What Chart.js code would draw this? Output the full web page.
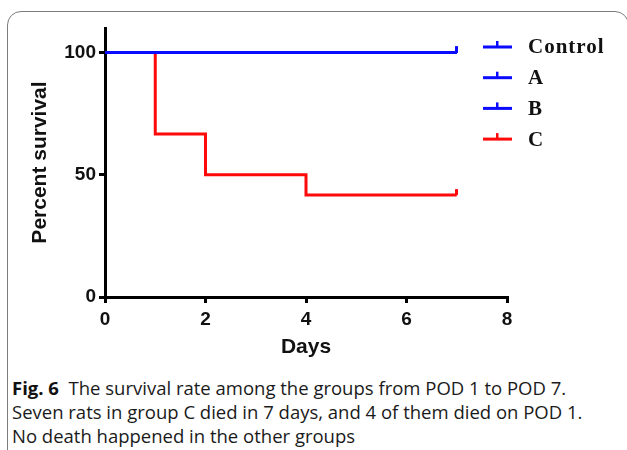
<!DOCTYPE html>
<html>
<head>
<meta charset="utf-8">
<script src="https://cdn.jsdelivr.net/npm/chart.js@4/dist/chart.umd.min.js"></script>
<style>
  html, body { margin: 0; padding: 0; background: #fff; width: 627px; height: 450px; overflow: hidden; }
  #frame { position: absolute; left: 7px; top: 11px; width: 622px; height: 470px; border: 1.5px solid #7c7c7c; border-radius: 14px; box-sizing: border-box; }
  #chart { position: absolute; left: 0; top: 0; }
  #caption { position: absolute; left: 12px; top: 376px; width: 615px; white-space: nowrap; font-family: "Open Sans", "Noto Sans", sans-serif; font-size: 18.5px; line-height: 24px; color: #1a1a1a; letter-spacing: 0; }
  #caption b { font-weight: 700; color: #111; }
</style>
</head>
<body>
<div id="frame"></div>
<canvas id="chart" width="627" height="360"></canvas>
<div id="caption"><b>Fig. 6</b>&nbsp; The survival rate among the groups from POD 1 to POD 7.<br>Seven rats in group C died in 7 days, and 4 of them died on POD 1.<br>No death happened in the other groups</div>
<script>
// ---- data ----
const groupNames = ['Control', 'A', 'B', 'C'];
const controlDays = [0, 7];
const controlSurvival = [100, 100];
const aDays = [0, 7];
const aSurvival = [100, 100];
const bDays = [0, 7];
const bSurvival = [100, 100];
const cDays = [0, 1, 2, 4, 7];
const cSurvival = [100, 66.67, 50, 41.67, 41.67];
const xTicks = [0, 2, 4, 6, 8];
const yTicks = [0, 50, 100];

const BLUE = '#0b0bff';
const RED = '#ff0a0a';
const groupColors = [BLUE, BLUE, BLUE, RED];

function censorMark(color) {
  const c = document.createElement('canvas');
  c.width = 3; c.height = 16;
  const g = c.getContext('2d');
  g.fillStyle = color;
  g.fillRect(0, 2, 3, 6);
  return c;
}

function series(days, vals, i) {
  const mark = censorMark(groupColors[i]);
  const last = days.length - 1;
  return {
    label: groupNames[i],
    data: days.map((d, k) => ({ x: d, y: vals[k] })),
    borderColor: groupColors[i],
    backgroundColor: groupColors[i],
    borderWidth: 3,
    stepped: 'before',
    fill: false,
    pointRadius: ctx => ctx.dataIndex === last ? 3 : 0,
    pointStyle: ctx => ctx.dataIndex === last ? mark : 'circle',
    clip: false
  };
}

const legendPlugin = {
  id: 'customLegend',
  afterDraw(chart) {
    const ctx = chart.ctx;
    ctx.save();
    chart.data.datasets.forEach((ds, i) => {
      const y = 47 + i * 30.7;
      ctx.fillStyle = ds.borderColor;
      ctx.fillRect(483, y - 1.5, 29, 3);
      ctx.fillRect(496, y - 6, 2.5, 6);
      ctx.fillStyle = '#111';
      ctx.font = 'bold 21px "Liberation Serif", "Times New Roman", serif';
      ctx.letterSpacing = '1px';
      ctx.textBaseline = 'middle';
      ctx.textAlign = 'left';
      ctx.fillText(ds.label, 528, y + 1);
    });
    ctx.restore();
  }
};

new Chart(document.getElementById('chart'), {
  type: 'line',
  data: {
    datasets: [
      series(controlDays, controlSurvival, 0),
      series(aDays, aSurvival, 1),
      series(bDays, bSurvival, 2),
      series(cDays, cSurvival, 3)
    ]
  },
  options: {
    responsive: false,
    animation: false,
    events: [],
    layout: { padding: { left: 28, right: 120, top: 28, bottom: 0 } },
    plugins: { legend: { display: false }, tooltip: { enabled: false } },
    scales: {
      x: {
        type: 'linear',
        min: 0, max: 8,
        afterBuildTicks: s => { s.ticks = xTicks.map(v => ({ value: v })); },
        afterFit: s => { s.height = 63; },
        grid: { drawOnChartArea: false, drawTicks: true, tickLength: 6, color: '#000', lineWidth: 3 },
        border: { display: true, color: '#000', width: 3 },
        ticks: { color: '#111', font: { family: '"Liberation Sans", Arial, sans-serif', size: 19, weight: 'bold' }, padding: 5, maxRotation: 0 },
        title: { display: true, text: 'Days', color: '#111', padding: 0, font: { family: '"Liberation Sans", Arial, sans-serif', size: 21, weight: 'bold' } }
      },
      y: {
        type: 'linear',
        min: 0, max: 110,
        afterBuildTicks: s => { s.ticks = yTicks.map(v => ({ value: v })); },
        afterFit: s => { s.width = 77; },
        grid: { drawOnChartArea: false, drawTicks: true, tickLength: 6, color: '#000', lineWidth: 3 },
        border: { display: true, color: '#000', width: 3 },
        ticks: { color: '#111', font: { family: '"Liberation Sans", Arial, sans-serif', size: 19, weight: 'bold' }, padding: 3 },
        title: { display: true, text: 'Percent survival', color: '#111', padding: 0, font: { family: '"Liberation Sans", Arial, sans-serif', size: 21, weight: 'bold' } }
      }
    }
  },
  plugins: [legendPlugin]
});
</script>
</body>
</html>
